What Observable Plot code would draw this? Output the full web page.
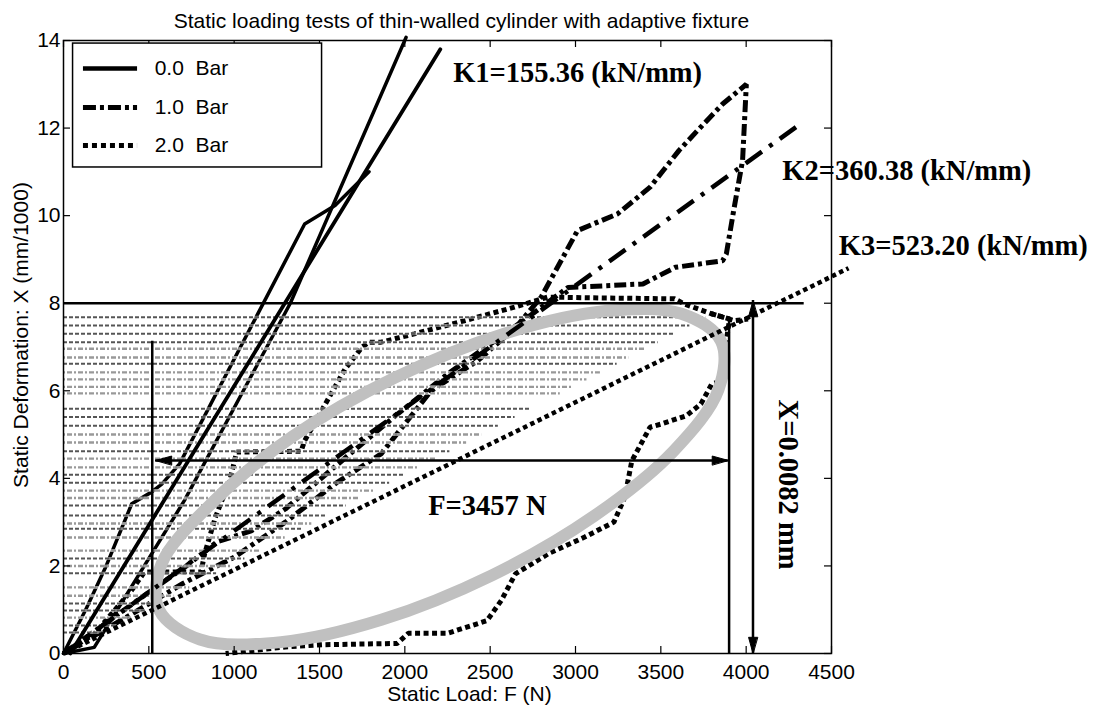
<!DOCTYPE html>
<html><head><meta charset="utf-8">
<script src="https://cdn.jsdelivr.net/npm/d3@7"></script>
<script src="https://cdn.jsdelivr.net/npm/@observablehq/plot@0.6"></script>
<style>body{margin:0;background:#fff}#chart svg{display:block}</style>
</head><body><div id="chart"></div>
<script>
// ---- axis ticks ----
const xTicks = [0,500,1000,1500,2000,2500,3000,3500,4000,4500];
const yTicks = [0,2,4,6,8,10,12,14];

// ---- 0.0 Bar (solid) ----
const load0   = [[0,0],[130,1.0],[250,2.0],[400,3.42],[513,3.68],[576,3.87],[680,4.33],[1413,9.81],[1591,10.23],[1790,11.0]];
const unload0 = [[0,0],[180,0.14],[708,3.49],[1329,8.0],[2007,14.07]];
const fitK1   = [[40,0],[2208,13.8]];

// ---- 1.0 Bar (dash-dot) ----
const loop1 = [[0,0],[250,0.7],[500,1.4],[720,2.0],[900,2.55],[1100,2.8],[1300,3.3],[1600,4.3],[1936,5.4],[2252,6.39],[2506,7.08],[2721,7.68],[2956,8.36],[3182,8.4],[3395,8.44],[3585,8.82],[3862,8.97],[3884,9.13],[3926,10.1],[3979,11.26],[4001,13.0],
  [3862,12.55],[3714,11.94],[3607,11.49],[3437,10.65],[3246,10.04],[3012,9.66],[2799,8.14],[2650,7.45],[2428,6.69],[2154,6.0],[1861,4.56],[1600,3.9],[1300,3.0],[1000,2.2],[700,1.6],[400,0.9],[0,0]];
const fitK2 = [[0,0],[4320,12.1]];

// ---- 2.0 Bar (dotted) ----
const loop2 = [[0,0],[181,0.45],[298,0.98],[400,1.45],[474,1.86],[806,1.86],[827,2.28],[890,3.11],[974,3.95],[1015,4.6],[1392,4.62],[1413,4.86],[1520,5.6],[1650,6.5],[1750,7.0],[1790,7.11],[1861,7.11],[2056,7.3],[2349,7.6],[2642,7.91],[2838,8.14],[3151,8.12],[3580,8.1],[3639,7.98],[3796,7.76],[3903,7.64],
  [3854,6.39],[3842,6.2],[3799,6.16],[3735,5.7],[3649,5.43],[3501,5.24],[3437,5.17],[3330,4.4],[3289,3.57],[3225,3.0],[3054,2.66],[2841,2.28],[2775,2.12],[2648,1.82],[2565,1.21],[2481,0.75],[2249,0.46],[2020,0.46],[1955,0.23],[1515,0.2],[1300,0.15],[950,0]];
const tail2 = [[3796,7.76],[3932,7.6],[4011,7.64]];
const fitK3 = [[0,0],[4600,8.8]];

// ---- shaded band (hatch rows) ----
const hatchLevels = [7.68,7.49,7.30,7.11,6.96,6.76,6.62,6.42,6.26,6.09,5.94,5.59,5.40,5.20,5.00,4.82,4.62,4.45,4.25,4.08,3.90,3.72,3.55,3.38,3.15,2.97,2.85,2.65,2.35,2.17,2.00,1.83,1.51,1.32,1.14,0.98,0.82,0.64,0.48];
const hatchEnds   = [3763,3670,3577,3484,3410,3312,3244,3146,3067,2984,2911,2739,2646,2548,2450,2362,2264,2181,2083,1999,1911,1823,1740,1656,1544,1455,1397,1299,1152,1063,980,897,740,647,559,480,402,314,235];
const hatchStyles = [0,0,0,0,1,1,0,1,1,1,1,0,0,0,1,1,0,1,1,0,0,1,1,0,0,1,0,1,1,0,1,0,1,1,0,0,1,0,0];

// ---- grey ellipse (outline points) ----
const ellipsePts = [[3853,7.13],[3838,6.03],[3576,4.63],[3109,3.14],[2507,1.78],[1862,0.77],[1273,0.26],[800,0.32],[560,1.0],[575,2.05],[873,3.45],[1340,4.95],[1942,6.30],[2587,7.31],[3176,7.82],[3621,7.76]];

// ---- annotation guides ----
const hGuides = [{X:8, F1:0, F2:4340}];
const vGuides = [{F:520, X1:0, X2:7.13},{F:3900, X1:0, X2:7.6}];
const hArrow = {X:4.41, F1:540, F2:3895};
const vArrow = {F:4040, X1:0, X2:8.06};

// ---- texts ----
const titleText = "Static loading tests of thin-walled cylinder with adaptive fixture";
const xLabel = "Static Load: F (N)";
const yLabel = "Static Deformation: X (mm/1000)";
const notes = [
  {F:2283, X:13.27, t:"K1=155.36 (kN/mm)"},
  {F:4212, X:11.03, t:"K2=360.38 (kN/mm)"},
  {F:4543, X:9.32,  t:"K3=523.20 (kN/mm)"},
  {F:2137, X:3.38,  t:"F=3457 N"}
];
const vNote = {F:4247, X:3.86, t:"X=0.0082 mm"};

// ---- legend ----
const legendBox = {F1:56, F2:1515, X1:11.1, X2:13.93};
const legendItems = [
  {label:"0.0\u00a0\u00a0Bar", X:13.36, dash:null, w:4.5},
  {label:"1.0\u00a0\u00a0Bar", X:12.47, dash:"13,4,4,4", w:5},
  {label:"2.0\u00a0\u00a0Bar", X:11.60, dash:"5,4", w:5}
];
const legendLineF = [114, 431];
const legendTextF = 534;

// ---------------------------------------------------------
const P = a => a.map(([F,X]) => ({F, X}));
const hatchRows = hatchLevels.map((X,i) => ({X, F:hatchEnds[i], s:hatchStyles[i]}));
const headLenY = 0.37, headHalfF = 26;   // vertical arrow heads (data units)
const headLenF = 94, headHalfY = 0.10;   // horizontal arrow heads
const heads = [
  [[vArrow.F, vArrow.X2],[vArrow.F-headHalfF, vArrow.X2-headLenY],[vArrow.F+headHalfF, vArrow.X2-headLenY]],
  [[vArrow.F, vArrow.X1],[vArrow.F-headHalfF, vArrow.X1+headLenY],[vArrow.F+headHalfF, vArrow.X1+headLenY]],
  [[hArrow.F1, hArrow.X],[hArrow.F1+headLenF, hArrow.X+headHalfY],[hArrow.F1+headLenF, hArrow.X-headHalfY]],
  [[hArrow.F2, hArrow.X],[hArrow.F2-headLenF, hArrow.X+headHalfY],[hArrow.F2-headLenF, hArrow.X-headHalfY]]
];
const tickLenX = 0.16, tickLenF = 41;
const sans = "'Liberation Sans', Arial, Helvetica, sans-serif";
const serif = "'Liberation Serif', 'Times New Roman', serif";
const dashed = (w, d) => ({x:"F", y:"X", stroke:"black", strokeWidth:w, strokeDasharray:d, strokeLinecap:"butt", strokeLinejoin:"miter"});

const chart = Plot.plot({
  width: 1109, height: 708,
  marginLeft: 63, marginRight: 278, marginTop: 40, marginBottom: 55,
  x: {domain: [0, 4500]},
  y: {domain: [0, 14]},
  style: {fontFamily: sans, fontSize: "21px", background: "white", color: "black"},
  marks: [
    // measured curves (under the shading)
    Plot.line(P(load0),   {x:"F", y:"X", stroke:"black", strokeWidth:3.5}),
    Plot.line(P(unload0), {x:"F", y:"X", stroke:"black", strokeWidth:3.5}),
    Plot.line(P(loop1),   dashed(5, "12,4,4,4")),
    Plot.line(P(loop2),   dashed(5, "5,3.5")),
    Plot.line(P(tail2),   dashed(5, "5,3.5")),
    // shading rows
    Plot.ruleY(hatchRows, {y:"X", x1:() => 0, x2:"F", stroke:"white", strokeWidth:3, strokeOpacity:0.5}),
    Plot.ruleY(hatchRows.filter(d => d.s === 0), {y:"X", x1:() => 0, x2:"F", stroke:"#555", strokeWidth:2, strokeDasharray:"4,2"}),
    Plot.ruleY(hatchRows.filter(d => d.s === 1), {y:"X", x1:() => 0, x2:"F", stroke:"#999", strokeWidth:2.4, strokeDasharray:"2,2,5,2"}),
    // grey ellipse
    Plot.line(P(ellipsePts), {x:"F", y:"X", curve:"catmull-rom-closed", stroke:"#c0c0c0", strokeWidth:12}),
    // fitted lines
    Plot.line(P(fitK1), {x:"F", y:"X", stroke:"black", strokeWidth:3.8}),
    Plot.line(P(fitK2), dashed(4.5, "20,9,4,9")),
    Plot.line(P(fitK3), dashed(4.5, "4.5,3.5")),
    // guides and arrows
    Plot.ruleY(hGuides, {y:"X", x1:"F1", x2:"F2", stroke:"black", strokeWidth:2.5}),
    Plot.ruleX(vGuides, {x:"F", y1:"X1", y2:"X2", stroke:"black", strokeWidth:2.5}),
    Plot.ruleY([hArrow], {y:"X", x1:"F1", x2:"F2", stroke:"black", strokeWidth:2.5}),
    Plot.ruleX([vArrow], {x:"F", y1:"X1", y2:"X2", stroke:"black", strokeWidth:2.5}),
    ...heads.map(h => Plot.line(P(h), {x:"F", y:"X", fill:"black", stroke:"black", strokeWidth:1, curve:"linear-closed"})),
    // frame & inward ticks
    Plot.frame({stroke:"black", strokeWidth:1.5}),
    Plot.ruleX(xTicks, {x:d => d, y1:() => 0, y2:() => tickLenX, stroke:"black", strokeWidth:1.2}),
    Plot.ruleX(xTicks, {x:d => d, y1:() => 14 - tickLenX, y2:() => 14, stroke:"black", strokeWidth:1.2}),
    Plot.ruleY(yTicks, {y:d => d, x1:() => 0, x2:() => tickLenF, stroke:"black", strokeWidth:1.2}),
    Plot.ruleY(yTicks, {y:d => d, x1:() => 4500 - tickLenF, x2:() => 4500, stroke:"black", strokeWidth:1.2}),
    Plot.axisX({ticks:xTicks, tickSize:0, tickPadding:11, fontSize:21, label:null, tickFormat:d3.format("d"), fontFamily:sans}),
    Plot.axisY({ticks:yTicks, tickSize:0, tickPadding:3, fontSize:21, label:null, tickFormat:d3.format("d"), fontFamily:sans}),
    // legend
    Plot.rect([legendBox], {x1:"F1", x2:"F2", y1:"X1", y2:"X2", fill:"white", stroke:"black", strokeWidth:1.5}),
    ...legendItems.map(it => Plot.line([{F:legendLineF[0], X:it.X},{F:legendLineF[1], X:it.X}], it.dash ? dashed(it.w, it.dash) : {x:"F", y:"X", stroke:"black", strokeWidth:it.w, strokeLinecap:"butt"})),
    Plot.text(legendItems, {x:() => legendTextF, y:"X", text:"label", textAnchor:"start", fontSize:21, fontFamily:sans}),
    // titles
    Plot.text([titleText], {frameAnchor:"top", lineAnchor:"middle", textAnchor:"middle", dx:14, dy:-19, fontSize:21, fontFamily:sans}),
    Plot.text([xLabel], {frameAnchor:"bottom", lineAnchor:"middle", textAnchor:"middle", dx:22, dy:41, fontSize:21, fontFamily:sans}),
    Plot.text([yLabel], {frameAnchor:"left", lineAnchor:"middle", textAnchor:"middle", rotate:-90, dx:-42, dy:-12, fontSize:21, fontFamily:sans}),
    // annotations
    Plot.text(notes, {x:"F", y:"X", text:"t", textAnchor:"start", fontFamily:serif, fontWeight:"bold", fontSize:28.5}),
    Plot.text([vNote], {x:"F", y:"X", text:"t", rotate:90, fontFamily:serif, fontWeight:"bold", fontSize:28.5})
  ]
});
document.getElementById("chart").appendChild(chart);
</script></body></html>
